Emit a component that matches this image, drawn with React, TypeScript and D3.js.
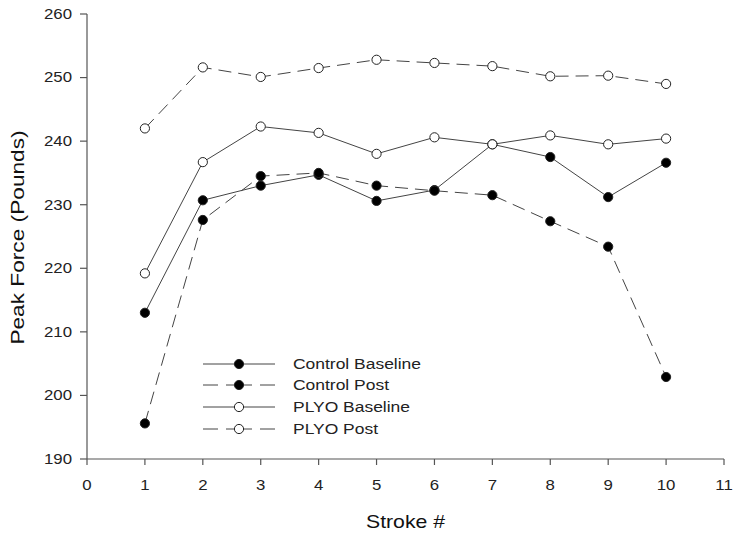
import React from "react";
import * as d3 from "d3";

const strokes = [1, 2, 3, 4, 5, 6, 7, 8, 9, 10];
const controlBaseline = [213.0, 230.7, 233.0, 234.7, 230.6, 232.3, 239.5, 237.5, 231.2, 236.6];
const controlPost = [195.6, 227.6, 234.5, 235.0, 233.0, 232.2, 231.5, 227.4, 223.4, 202.9];
const plyoBaseline = [219.2, 236.7, 242.3, 241.3, 238.0, 240.6, 239.5, 240.9, 239.5, 240.4];
const plyoPost = [242.0, 251.6, 250.1, 251.5, 252.8, 252.3, 251.8, 250.2, 250.3, 249.0];

const xTicks = [0, 1, 2, 3, 4, 5, 6, 7, 8, 9, 10, 11];
const yTicks = [190, 200, 210, 220, 230, 240, 250, 260];

const seriesNames = ["Control Baseline", "Control Post", "PLYO Baseline", "PLYO Post"];
const seriesValues = [controlBaseline, controlPost, plyoBaseline, plyoPost];
const seriesFilled = [true, true, false, false];
const seriesDashed = [false, true, false, true];

const W = 736;
const H = 535;
const FONT = "'Liberation Sans', Arial, sans-serif";

function SText(props: {
  x: number;
  y: number;
  sx?: number;
  sy?: number;
  rotate?: number;
  anchor?: string;
  size: number;
  fill?: string;
  dy?: string;
  children: React.ReactNode;
}) {
  const { x, y, sx = 1.2, sy = 1, rotate = 0, anchor = "start", size, fill = "#222", dy } = props;
  return (
    <text
      transform={`translate(${x},${y}) rotate(${rotate}) scale(${sx},${sy})`}
      textAnchor={anchor}
      fontSize={size}
      fill={fill}
      dy={dy}
    >
      {props.children}
    </text>
  );
}

export default function App() {
  const x = d3.scaleLinear().domain([0, 11]).range([87, 724]);
  const y = d3.scaleLinear().domain([190, 260]).range([459, 14]);
  const line = d3
    .line<number>()
    .x((_, i) => x(strokes[i]))
    .y((d) => y(d));

  const axisColor = "#555";
  const dash = "13,7";

  const legendX1 = 203;
  const legendX2 = 275;
  const legendMid = 239;
  const legendTextX = 293;
  const legendYs = [364, 385, 407, 429];

  return (
    <svg
      width={W}
      height={H}
      style={{ position: "absolute", left: 0, top: 0, background: "#fff" }}
      fontFamily={FONT}
    >
      <rect x={0} y={0} width={W} height={H} fill="#fff" />
      {/* axes */}
      <line x1={x(0)} x2={x(0)} y1={y(190)} y2={y(260)} stroke={axisColor} strokeWidth={1.2} />
      <line x1={x(0)} x2={x(11)} y1={y(190)} y2={y(190)} stroke={axisColor} strokeWidth={1.2} />
      {yTicks.map((t) => (
        <g key={"y" + t}>
          <line x1={x(0) - 7} x2={x(0)} y1={y(t)} y2={y(t)} stroke={axisColor} strokeWidth={1.2} />
          <SText x={x(0) - 15} y={y(t)} dy="0.35em" anchor="end" size={14}>
            {t}
          </SText>
        </g>
      ))}
      {xTicks.map((t) => (
        <g key={"x" + t}>
          <line x1={x(t)} x2={x(t)} y1={y(190)} y2={y(190) + 6} stroke={axisColor} strokeWidth={1.2} />
          <SText x={x(t)} y={y(190) + 31} anchor="middle" size={14}>
            {t}
          </SText>
        </g>
      ))}
      <SText x={405.5} y={528} anchor="middle" size={18} sx={1.18} fill="#111">
        Stroke #
      </SText>
      <SText x={24} y={237.5} rotate={-90} anchor="middle" size={18} sx={1.26} fill="#111">
        Peak Force (Pounds)
      </SText>

      {/* series */}
      {seriesValues.map((vals, si) => (
        <path
          key={"l" + si}
          d={line(vals) || ""}
          fill="none"
          stroke="#444"
          strokeWidth={1}
          strokeDasharray={seriesDashed[si] ? dash : undefined}
        />
      ))}
      {seriesValues.map((vals, si) => (
        <g key={"m" + si}>
          {vals.map((v, i) => (
            <circle
              key={i}
              cx={x(strokes[i])}
              cy={y(v)}
              r={4.6}
              fill={seriesFilled[si] ? "#000" : "#fff"}
              stroke="#222"
              strokeWidth={1}
            />
          ))}
        </g>
      ))}

      {/* legend */}
      {seriesNames.map((name, si) => (
        <g key={"lg" + si}>
          <line
            x1={legendX1}
            x2={legendMid}
            y1={legendYs[si]}
            y2={legendYs[si]}
            stroke="#444"
            strokeWidth={1}
            strokeDasharray={seriesDashed[si] ? "15,8" : undefined}
          />
          <line
            x1={legendX2}
            x2={legendMid}
            y1={legendYs[si]}
            y2={legendYs[si]}
            stroke="#444"
            strokeWidth={1}
            strokeDasharray={seriesDashed[si] ? "15,8" : undefined}
          />
          <circle
            cx={legendMid}
            cy={legendYs[si]}
            r={4.6}
            fill={seriesFilled[si] ? "#000" : "#fff"}
            stroke="#222"
            strokeWidth={1}
          />
          <SText x={legendTextX} y={legendYs[si]} dy="0.35em" size={14.8} sx={1.18}>
            {name}
          </SText>
        </g>
      ))}
    </svg>
  );
}
